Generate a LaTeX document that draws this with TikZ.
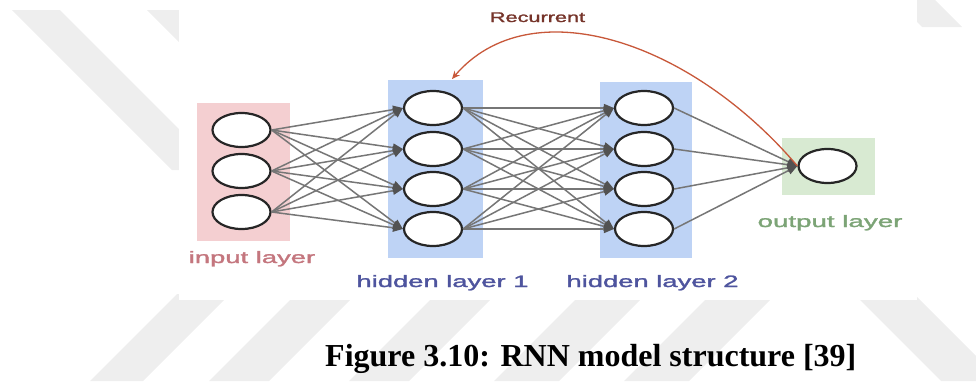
\documentclass[tikz,border=0pt]{standalone}
\usepackage{fontspec}
\setmainfont{Liberation Serif}
\setsansfont{Liberation Sans}
\newfontfamily\lblfont{Liberation Sans}[FakeBold=1.4]
\usetikzlibrary{shapes.geometric,arrows.meta}

\definecolor{wmark}{RGB}{238,238,238}
\definecolor{inbox}{RGB}{244,207,209}
\definecolor{hidbox}{RGB}{190,211,245}
\definecolor{outbox}{RGB}{216,234,210}
\definecolor{neuronline}{RGB}{38,38,38}
\definecolor{linkgray}{RGB}{118,118,118}
\definecolor{tipgray}{RGB}{82,82,82}
\definecolor{recline}{RGB}{200,88,58}
\definecolor{rectext}{RGB}{118,52,42}
\definecolor{intext}{RGB}{196,118,126}
\definecolor{hidtext}{RGB}{78,84,158}
\definecolor{outtext}{RGB}{124,164,118}

\begin{document}
\begin{tikzpicture}[x=1pt,y=-1pt,
  neuron/.style={ellipse,draw=neuronline,line width=2.2pt,fill=white,
    minimum width=58pt,minimum height=34pt,inner sep=0pt},
  layerbox/.style={draw=none,inner sep=0pt},
  link/.style={draw=linkgray,line width=1.5pt,
    -{Triangle[length=10pt,width=8pt,fill=tipgray,color=tipgray]}},
  recur/.style={draw=recline,line width=1.3pt,
    -{Stealth[length=8pt,width=7pt,fill=recline]}},
  lbl/.style={font=\lblfont\fontsize{16.5}{18}\selectfont,inner sep=0pt,anchor=base},
  stripe/.style={fill=wmark,draw=none}]

\useasboundingbox (0,0) rectangle (976,381);
\clip (0,0) rectangle (976,381);

% faint diagonal watermark bands
\fill[stripe] (12,10) -- (60,10) -- (220,170) -- (172,170) -- cycle;
\fill[stripe] (147,10) -- (195,10) -- (260,75) -- (212,75) -- cycle;
\fill[stripe] (90,381) -- (143,381) -- (230,294) -- (177,294) -- cycle;
\fill[stripe] (209,381) -- (269,381) -- (355,295) -- (295,295) -- cycle;
\fill[stripe] (349,381) -- (409,381) -- (495,295) -- (435,295) -- cycle;
\fill[stripe] (494,381) -- (559,381) -- (645,295) -- (580,295) -- cycle;
\fill[stripe] (624,381) -- (689,381) -- (775,295) -- (710,295) -- cycle;
\fill[stripe] (855,295) -- (915,295) -- (1001,381) -- (941,381) -- cycle;
\fill[stripe] (895,0) -- (935,0) -- (962,27) -- (922,27) -- cycle;

% white panel holding the network
\fill[white] (179,0) rectangle (917,300);

% coloured layer backgrounds
\node[layerbox,fill=inbox,minimum width=93pt,minimum height=138pt] (inbg) at (243.5,172) {};
\node[layerbox,fill=hidbox,minimum width=95pt,minimum height=178pt] (h1bg) at (435.5,169) {};
\node[layerbox,fill=hidbox,minimum width=92pt,minimum height=176pt] (h2bg) at (646,170) {};
\node[layerbox,fill=outbox,minimum width=93pt,minimum height=57pt] (outbg) at (828.5,166.5) {};

% neurons
\node[neuron] (in1) at (241.5,130) {};
\node[neuron] (in2) at (241.5,171) {};
\node[neuron] (in3) at (241.5,212) {};

\node[neuron] (ha1) at (433,108) {};
\node[neuron] (ha2) at (433,149) {};
\node[neuron] (ha3) at (433,189) {};
\node[neuron] (ha4) at (433,229) {};

\node[neuron] (hb1) at (644,108) {};
\node[neuron] (hb2) at (644,149) {};
\node[neuron] (hb3) at (644,189) {};
\node[neuron] (hb4) at (644,229) {};

\node[neuron] (out) at (827.5,166) {};

% fully connected weights
\foreach \i in {1,2,3}
  \foreach \j in {1,2,3,4}
    \draw[link] (in\i.east) -- (ha\j.west);
\foreach \i in {1,2,3,4}
  \foreach \j in {1,2,3,4}
    \draw[link] (ha\i.east) -- (hb\j.west);
\foreach \i in {1,2,3,4}
  \draw[link] (hb\i.east) -- (out.west);

% recurrent feedback from the output back to the first hidden layer
\coordinate (recend) at (452,79);
\draw[recur] (out.west) .. controls (690,40) and (530,-12) .. (recend);
\node[lbl,text=rectext,font=\lblfont\fontsize{14}{16}\selectfont] (reclbl) at (537.5,22)
  {\scalebox{1.55}[1]{Recurrent}};

% layer captions
\node[lbl,text=intext] (inlbl) at (252,263) {\scalebox{1.66}[1]{input layer}};
\node[lbl,text=hidtext] (h1lbl) at (442.5,287) {\scalebox{1.66}[1]{hidden layer 1}};
\node[lbl,text=hidtext] (h2lbl) at (652.5,287) {\scalebox{1.66}[1]{hidden layer 2}};
\node[lbl,text=outtext] (outlbl) at (830,227) {\scalebox{1.68}[1]{output layer}};

% figure caption
\node[inner sep=0pt,anchor=base west,font=\bfseries\fontsize{32}{36}\selectfont] (cap)
  at (325,366) {Figure 3.10: RNN model structure [39]};
\end{tikzpicture}
\end{document}
